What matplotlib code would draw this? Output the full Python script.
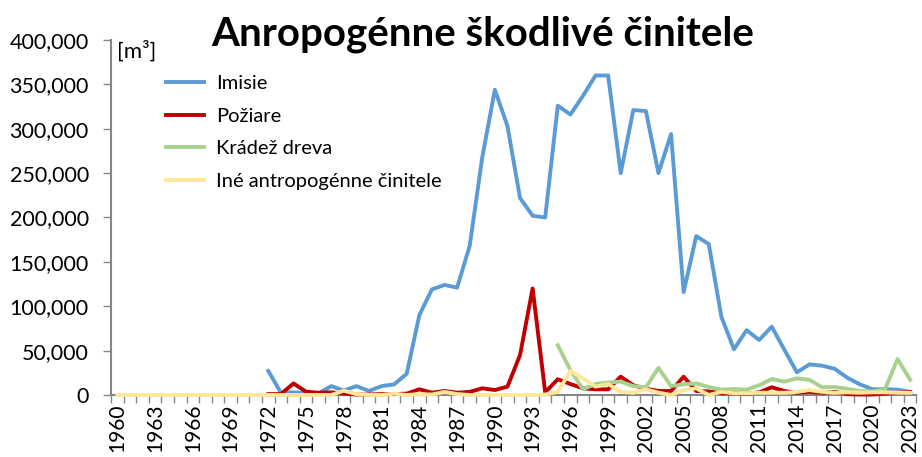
import matplotlib.pyplot as plt
from matplotlib.ticker import FuncFormatter, FixedLocator

plt.rcParams['font.family'] = ['Lato', 'DejaVu Sans']

# categories (years)
years = list(range(1960, 2024))

# Imisie, data from 1972
imisie_start = 1972
imisie = [27000, 2500, 3000, 2000, 2000, 10000, 5000, 10000, 4500, 10000,
          12000, 24000, 90000, 119000, 124000, 121000, 168000, 268000, 344000, 303000,
          222000, 202000, 200000, 326000, 316000, 337000, 360000, 360000, 250000, 321000,
          320000, 250000, 294000, 116000, 179000, 170000, 88000, 51500, 73000, 62000,
          77000, 51000, 25500, 34500, 33000, 29500, 19500, 12000, 6500, 6500,
          6000, 3500]

# Požiare, data from 1972
poziare_start = 1972
poziare = [1000, 1000, 13000, 3700, 2500, 3000, 1500, 500, 500, 1000,
           1000, 1500, 6400, 2600, 4500, 2600, 3500, 7500, 5600, 9400,
           45000, 120000, 3000, 17700, 12400, 7500, 6400, 6400, 20600, 11000,
           7000, 4500, 4500, 20600, 4500, 4000, 2000, 2000, 1500, 3000,
           8700, 4500, 2500, 3500, 2500, 3500, 1000, 500, 500, 1500,
           2500, 3500]

# Krádež dreva, data from 1995
kradez_start = 1995
kradez = [56000, 28000, 6500, 12400, 14000, 15000, 10000, 8700, 30500, 10000,
          12000, 13000, 9000, 6000, 6700, 6000, 11000, 18000, 15000, 18800,
          17000, 8700, 9000, 7000, 4500, 4000, 6400, 40500, 17000]

# Iné antropogénne činitele, data from 1960
ine_start = 1960
ine = [0, 0, 0, 0, 0, 0, 0, 0, 0, 0,
       0, 0, 0, 0, 0, 0, 0, 0, 4800, 1000,
       0, 0, 1500, 0, 1000, 500, 3500, 1000, 0, 0,
       0, 0, 0, 0, 500, 3500, 27000, 18800, 9400, 12400,
       3500, 2500, 6400, 2600, 0, 5600, 7500, 0, 3500, 2000,
       2000, 2500, 2500, 2500, 3500, 5600, 3500, 2500, 3000, 2500,
       3000, 3000, 2600, 2500]

series = [
    ("Imisie", imisie_start, imisie, "#5B9BD5"),
    ("Požiare", poziare_start, poziare, "#C00000"),
    ("Krádež dreva", kradez_start, kradez, "#A9D18E"),
    ("Iné antropogénne činitele", ine_start, ine, "#FFE699"),
]

fig = plt.figure(figsize=(9.22, 4.57), dpi=100)
ax = fig.add_axes([0.1204, 0.1357, 0.8736, 0.7768])

for name, start, vals, color in series:
    xs = [years.index(start) + i for i in range(len(vals))]
    ax.plot(xs, vals, color=color, lw=2.8, label=name, solid_joinstyle="round",
            zorder=3, clip_on=False)

ax.set_xlim(-0.5, len(years) - 0.5)
ax.set_ylim(0, 400000)

# year boundaries as tick marks, every third year labelled
ax.xaxis.set_major_locator(FixedLocator([i - 0.5 for i in range(len(years) + 1)]))
ax.xaxis.set_major_formatter(FuncFormatter(lambda v, p: ""))
lab_idx = list(range(0, len(years), 3))
ax.set_xticks(lab_idx, [str(years[i]) for i in lab_idx], minor=True, rotation=90)
ax.tick_params(axis="x", which="major", length=6, width=1, color="#868686")
ax.tick_params(axis="x", which="minor", length=0, labelsize=15, pad=6)

ax.set_yticks(range(0, 400001, 50000))
ax.yaxis.set_major_formatter(FuncFormatter(lambda v, p: f"{v:,.0f}"))
ax.tick_params(axis="y", length=6, width=1, color="#868686", labelsize=15.5, pad=10)

for s in ["top", "right"]:
    ax.spines[s].set_visible(False)
for s in ["left", "bottom"]:
    ax.spines[s].set_color("#868686")
    ax.spines[s].set_linewidth(1.5)

ax.text(0.008, 0.998, "[m³]", transform=ax.transAxes, fontsize=16, va="top", ha="left")

fig.text(0.523, 0.9015, "Anropogénne škodlivé činitele", fontsize=29, fontweight="bold",
         ha="center", va="baseline")

ax.legend(loc="upper left", bbox_to_anchor=(0.058, 0.925), frameon=False, fontsize=14.5,
          handlelength=1.9, handletextpad=0.6, labelspacing=0.78, borderaxespad=0)

fig.savefig("out.png", dpi=100)
